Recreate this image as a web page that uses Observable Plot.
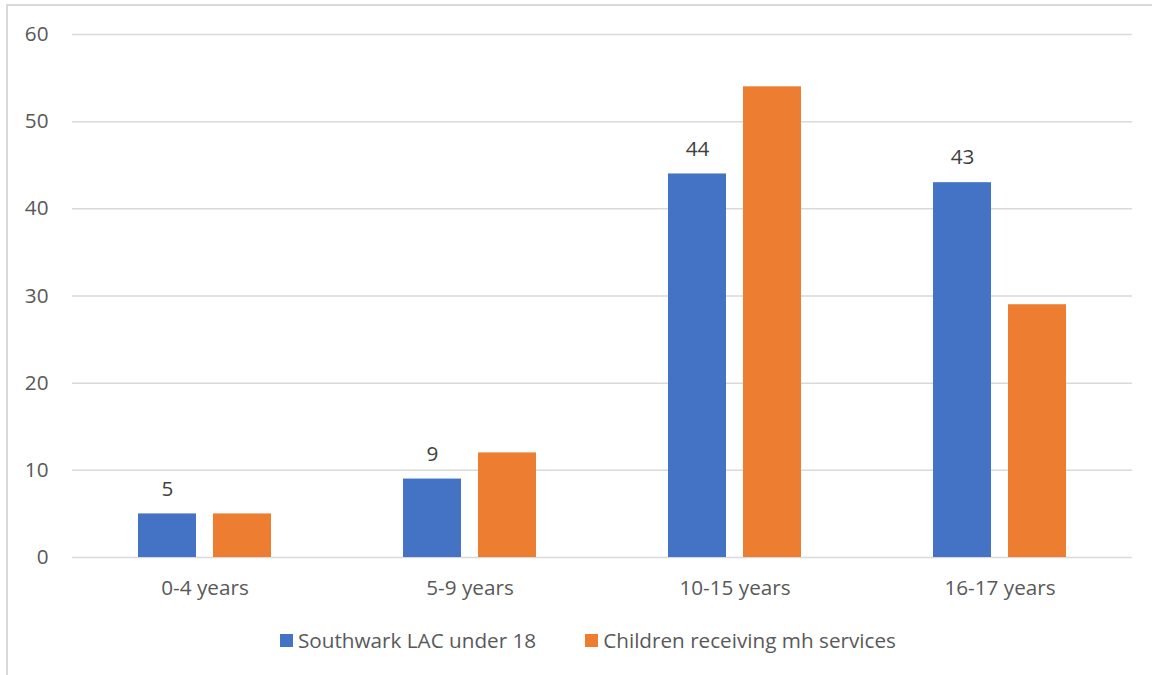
<!DOCTYPE html>
<html>
<head>
<meta charset="utf-8">
<script src="https://cdn.jsdelivr.net/npm/d3@7"></script>
<script src="https://cdn.jsdelivr.net/npm/@observablehq/plot@0.6"></script>
<style>
  html, body { margin: 0; padding: 0; background: #fff; }
  #wrap { position: relative; width: 1152px; height: 675px; overflow: hidden; font-family: "Open Sans", sans-serif; }
  #frame { position: absolute; left: 6px; top: 4px; width: 1160px; height: 690px; border-left: 2px solid #d9d9d9; border-top: 2px solid #d9d9d9; }
  #chart { position: absolute; left: 0; top: 0; }
  #legend { position: absolute; left: 280px; top: 626px; display: flex; align-items: center; font-size: 20.7px; color: #595959; white-space: nowrap; }
  .item { display: flex; align-items: center; }
  .sw { width: 13px; height: 13px; margin-right: 5px; }
</style>
</head>
<body>
<div id="wrap">
  <div id="frame"></div>
  <div id="chart"></div>
  <div id="legend"></div>
</div>
<script>
const categories = ["0-4 years", "5-9 years", "10-15 years", "16-17 years"];
const seriesNames = ["Southwark LAC under 18", "Children receiving mh services"];
const lacValues = [5, 9, 44, 43];
const mhValues = [5, 12, 54, 29];
const yTicks = [0, 10, 20, 30, 40, 50, 60];
const seriesColors = ["#4472C4", "#ED7D31"];

const data = categories.flatMap((c, i) => [
  {category: c, series: seriesNames[0], value: lacValues[i]},
  {category: c, series: seriesNames[1], value: mhValues[i]}
]);

const chart = Plot.plot({
  width: 1152,
  height: 615,
  marginLeft: 71,
  marginRight: 19,
  marginTop: 34,
  marginBottom: 58,
  style: {fontFamily: "Open Sans", fontSize: "20.7px", color: "#595959", background: "transparent", overflow: "visible"},
  fx: {domain: categories, padding: 0, label: null, tickSize: 0, tickPadding: 23, axis: "bottom"},
  x: {domain: seriesNames, paddingInner: 0.224, paddingOuter: 0.859, axis: null},
  y: {domain: [0, 60], ticks: yTicks, tickSize: 0, tickPadding: 24, label: null},
  color: {domain: seriesNames, range: seriesColors},
  marks: [
    Plot.ruleY(yTicks, {stroke: "#d9d9d9", strokeWidth: 1.5}),
    Plot.barY(data, {fx: "category", x: "series", y: "value", fill: "series"}),
    Plot.text(data.filter(d => d.series === seriesNames[0]), {
      fx: "category", x: "series", y: "value", text: d => String(d.value),
      dy: -25, fill: "#404040", fontSize: 20.7
    })
  ]
});
document.getElementById("chart").appendChild(chart);

const legend = document.getElementById("legend");
seriesNames.forEach((name, i) => {
  const item = document.createElement("div");
  item.className = "item";
  if (i > 0) item.style.marginLeft = "49px";
  const sw = document.createElement("div");
  sw.className = "sw";
  sw.style.background = seriesColors[i];
  const label = document.createElement("span");
  label.textContent = name;
  item.appendChild(sw);
  item.appendChild(label);
  legend.appendChild(item);
});
</script>
</body>
</html>
